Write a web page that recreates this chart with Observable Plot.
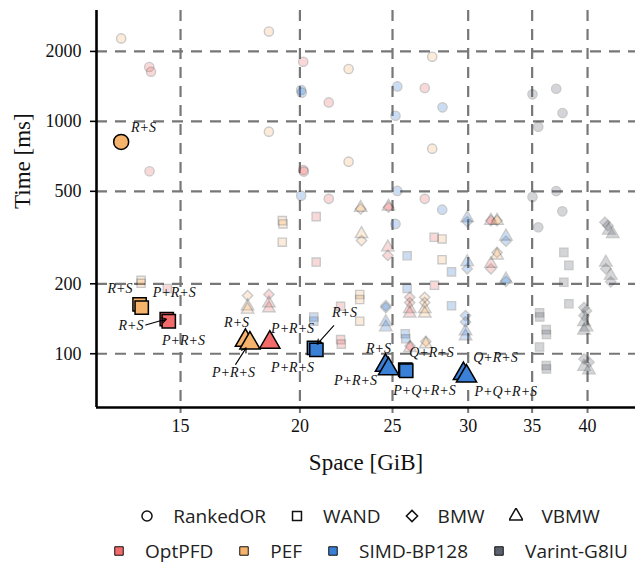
<!DOCTYPE html>
<html>
<head>
<meta charset="utf-8">
<script src="https://cdn.jsdelivr.net/npm/d3@7"></script>
<script src="https://cdn.jsdelivr.net/npm/@observablehq/plot@0.6"></script>
<style>
  body { margin: 0; background: #fff; }
  #wrap { position: relative; width: 637px; height: 565px; overflow: hidden; background: #fff; }
  .leg { position: absolute; left: 0; width: 740px; height: 28px; display: flex; justify-content: center; align-items: center;
         font-family: "Open Sans", sans-serif; font-size: 19px; color: #222; }
  .item { display: flex; align-items: center; margin: 0 12px; white-space: nowrap; }
  .item svg { margin-right: 19px; }
</style>
</head>
<body>
<div id="wrap">
  <div id="plot"></div>
  <div id="leg1" class="leg" style="top:502px"></div>
  <div id="leg2" class="leg" style="top:537px"></div>
</div>
<script>
// ---------- categories ----------
const codecs = ["OptPFD", "PEF", "SIMD-BP128", "Varint-G8IU"];
const codecColors = ["#f26a6a", "#f6b36c", "#3a80d6", "#5a626e"];
const algorithms = ["RankedOR", "WAND", "BMW", "VBMW"];
const algorithmSymbols = ["circle", "square", "diamond2", "triangle"];

// ---------- tick labels ----------
const xTicks = [15, 20, 25, 30, 35, 40];
const yTicks = [100, 200, 500, 1000, 2000];

// ---------- faded points [space GiB, time ms] ----------
const optpfdRankedOR = [[13.91,1714],[13.97,1636],[13.92,610],[20.16,1806],[20.16,618],[20.19,608],[21.44,1207],[21.44,464],[27.02,1392],[27.02,464]];
const pefRankedOR    = [[13.0,2275],[18.56,2438],[18.56,903],[22.49,1680],[22.49,671],[27.51,1898],[27.51,763]];
const simdRankedOR   = [[20.06,1365],[20.09,1329],[20.06,479],[25.29,1414],[25.29,502],[25.18,1058],[25.18,362],[28.2,1149],[28.18,417]];
const varintRankedOR = [[37.09,1382],[35.03,1307],[37.66,1087],[35.52,949],[37.09,501],[35.03,473],[37.64,410],[35.52,350]];

const optpfdWAND = [[14.53,191],[20.8,389],[20.8,248],[22.06,160],[22.06,115],[22.1,110],[27.64,317],[27.66,197]];
const pefWAND    = [[13.64,207],[13.64,201],[19.17,374],[19.2,362],[19.17,302],[23.1,180],[23.1,171],[23.1,138],[28.17,312],[28.17,254]];
const simdWAND   = [[25.9,264],[28.82,225],[25.9,191],[28.82,161],[20.68,144],[20.68,138],[25.78,122],[25.81,116]];
const varintWAND = [[37.78,273],[38.24,240],[37.78,203],[38.24,164],[35.63,150],[35.65,144],[36.21,127],[36.23,121],[35.63,107],[36.21,89],[36.23,86]];

const optpfdBMW = [[18.56,180],[24.76,427],[24.72,265],[26.06,175],[26.06,166],[26.08,108],[31.69,374],[31.69,232]];
const pefBMW    = [[17.63,178],[23.15,420],[23.2,307],[27.02,175],[27.02,166],[27.09,113],[32.16,374],[32.16,273]];
const simdBMW   = [[24.6,161],[24.6,158],[29.81,146],[29.81,137],[29.93,370],[29.93,232],[32.86,305],[32.86,205]];
const varintBMW = [[41.71,368],[42.0,356],[41.8,232],[42.3,204],[39.66,158],[39.9,153],[39.66,146],[39.66,95],[40.14,92]];

const optpfdVBMW = [[18.56,165],[18.56,157],[24.76,430],[24.72,287],[26.06,156],[26.06,149],[26.08,106],[31.69,374],[31.69,244]];
const pefVBMW    = [[17.63,160],[17.63,155],[23.15,425],[23.2,328],[27.02,156],[27.02,149],[27.09,110],[32.16,374],[32.16,265]];
const simdVBMW   = [[24.6,137],[24.6,130],[29.81,125],[29.81,119],[29.93,384],[29.93,248],[32.86,320],[32.86,209]];
const varintVBMW = [[42.1,339],[42.5,328],[41.8,247],[42.3,217],[39.66,137],[39.9,130],[39.66,126],[39.66,88],[40.14,85]];

// ---------- highlighted points [codec, algorithm, space, time] ----------
const highlightedPoints = [
  ["PEF","RankedOR",13.0,816],
  ["PEF","WAND",13.59,163],["PEF","WAND",13.66,158],
  ["OptPFD","WAND",14.51,141],["OptPFD","WAND",14.58,138],
  ["PEF","VBMW",17.54,114],["PEF","VBMW",17.73,111],
  ["OptPFD","VBMW",18.6,112],
  ["SIMD-BP128","WAND",20.69,106],["SIMD-BP128","WAND",20.81,104],
  ["SIMD-BP128","VBMW",24.58,89],["SIMD-BP128","VBMW",24.76,86],
  ["SIMD-BP128","WAND",25.78,85.5],["SIMD-BP128","WAND",25.84,84.5],
  ["SIMD-BP128","VBMW",29.66,82],["SIMD-BP128","VBMW",29.88,80]
];

// ---------- annotations [text, space, time] ----------
const annotationLabels = [
  ["R+S",13.72,940],
  ["R+S",12.96,191],["P+R+S",14.77,183],
  ["R+S",13.31,132],["P+R+S",15.11,114],
  ["R+S",17.17,136],["P+R+S",19.65,128],
  ["P+R+S",17.04,83],["P+R+S",19.65,87.3],
  ["R+S",22.27,150.5],
  ["R+S",24.17,105.3],["P+R+S",22.87,76.8],
  ["Q+R+S",27.46,101.3],["P+Q+R+S",27.0,69.5],
  ["Q+R+S",32.04,96.4],["P+Q+R+S",32.85,68.8]
];
// arrows [fromSpace, fromTime, toSpace, toTime]
const annotationArrows = [
  [13.79,133,14.5,141],
  [17.13,90,17.57,106],
  [21.7,132,20.85,110]
];

// ---------- build tables ----------
const fadedSeries = [
  ["OptPFD","RankedOR",optpfdRankedOR],["PEF","RankedOR",pefRankedOR],["SIMD-BP128","RankedOR",simdRankedOR],["Varint-G8IU","RankedOR",varintRankedOR],
  ["OptPFD","WAND",optpfdWAND],["PEF","WAND",pefWAND],["SIMD-BP128","WAND",simdWAND],["Varint-G8IU","WAND",varintWAND],
  ["OptPFD","BMW",optpfdBMW],["PEF","BMW",pefBMW],["SIMD-BP128","BMW",simdBMW],["Varint-G8IU","BMW",varintBMW],
  ["OptPFD","VBMW",optpfdVBMW],["PEF","VBMW",pefVBMW],["SIMD-BP128","VBMW",simdVBMW],["Varint-G8IU","VBMW",varintVBMW]
];
const faded = fadedSeries.flatMap(([codec, algo, pts]) => pts.map(([space, time]) => ({codec, algo, space, time})));
const highlighted = highlightedPoints.map(([codec, algo, space, time]) => ({codec, algo, space, time}));
const labels = annotationLabels.map(([text, space, time]) => ({text, space, time}));
const arrows = annotationArrows.map(([x1, y1, x2, y2]) => ({x1, y1, x2, y2}));

const xDomain = [12.25, 44.9];
const yDomain = [58.7, 3000];
const serif = "'Liberation Serif', serif";
const gridStyle = {stroke: "#777", strokeOpacity: 1, strokeWidth: 2.2, strokeDasharray: "11,8"};

const chart = Plot.plot({
  width: 637,
  height: 480,
  marginLeft: 96,
  marginRight: 2,
  marginTop: 10,
  marginBottom: 73,
  style: {fontFamily: serif, fontSize: "18px", color: "#111", background: "white"},
  x: {type: "log", domain: xDomain},
  y: {type: "log", domain: yDomain},
  color: {domain: codecs, range: codecColors},
  symbol: {domain: algorithms, range: algorithmSymbols},
  marks: [
    Plot.gridX(xTicks, gridStyle),
    Plot.gridY(yTicks, gridStyle),
    Plot.dot(faded, {x: "space", y: "time", symbol: "algo", fill: "codec", stroke: "#333", strokeWidth: 1.4, r: 4.6, opacity: 0.26}),
    Plot.dot(highlighted, {x: "space", y: "time", symbol: "algo", fill: "codec", stroke: "black", strokeWidth: 1.5, r: 7.5}),
    Plot.arrow(arrows, {x1: "x1", y1: "y1", x2: "x2", y2: "y2", stroke: "black", strokeWidth: 1.1, headLength: 7}),
    Plot.text(labels, {x: "space", y: "time", text: "text", fontStyle: "italic", fontSize: 14, fontFamily: serif, fill: "#111"}),
    Plot.axisX({ticks: xTicks, tickSize: 6, tickPadding: 6, stroke: "#777", strokeWidth: 2, fill: "#111",
                fontFamily: serif, fontSize: 18, tickFormat: d => `${d}`, label: null}),
    Plot.axisY({ticks: yTicks, tickSize: 6, tickPadding: 9, stroke: "black", strokeWidth: 1.6, fill: "#111",
                fontFamily: serif, fontSize: 18, tickFormat: d => `${d}`, label: null}),
    Plot.ruleY([yDomain[0]], {stroke: "black", strokeWidth: 2.6}),
    Plot.ruleX([xDomain[0]], {stroke: "black", strokeWidth: 2.6}),
    Plot.text(["Space [GiB]"], {frameAnchor: "bottom", dy: 55, lineAnchor: "middle", fontSize: 23, fontFamily: serif, text: d => d}),
    Plot.text(["Time [ms]"], {frameAnchor: "left", dx: -74, rotate: -90, lineAnchor: "middle", fontSize: 23, fontFamily: serif, text: d => d})
  ]
});
document.getElementById("plot").append(chart);

// ---------- legend ----------
const symbolTypes = {circle: d3.symbolCircle, square: d3.symbolSquare, diamond2: d3.symbolDiamond2, triangle: d3.symbolTriangle};
function symbolSvg(type, size, fill, stroke, sw) {
  const ns = "http://www.w3.org/2000/svg";
  const svg = document.createElementNS(ns, "svg");
  svg.setAttribute("width", 14); svg.setAttribute("height", 16);
  svg.setAttribute("viewBox", "-7 -8 14 16");
  const p = document.createElementNS(ns, "path");
  p.setAttribute("d", d3.symbol(symbolTypes[type], size)());
  p.setAttribute("fill", fill); p.setAttribute("stroke", stroke); p.setAttribute("stroke-width", sw);
  svg.append(p);
  return svg;
}
const leg1 = document.getElementById("leg1");
algorithms.forEach((a, i) => {
  const it = document.createElement("div"); it.className = "item";
  it.append(symbolSvg(algorithmSymbols[i], 80, "none", "#111", 1.5));
  const t = document.createElement("span"); t.textContent = a; it.append(t);
  leg1.append(it);
});
const leg2 = document.getElementById("leg2");
codecs.forEach((c, i) => {
  const it = document.createElement("div"); it.className = "item";
  it.append(symbolSvg("square", 72, codecColors[i], "#111", 1));
  const t = document.createElement("span"); t.textContent = c; it.append(t);
  leg2.append(it);
});
</script>
</body>
</html>
